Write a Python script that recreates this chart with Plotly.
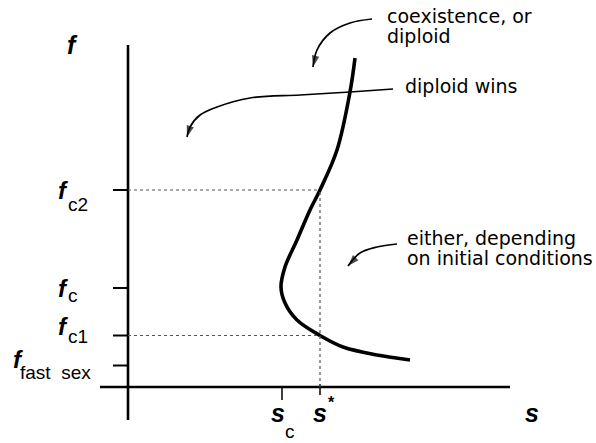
import plotly.graph_objects as go

# ---------------- data (abstract units: s to the right, f upward) ----------------
F_TICK_VALUES = [197, 99, 51.5, 21.5]
F_TICK_SUBS = ["c2", "c", "c1", "fast\u00a0\u00a0sex"]
S_C = 154
S_STAR = 192

CURVE_S = [227, 222, 209, 192, 182, 169, 157, 153, 157, 169, 192, 215, 249, 282]
CURVE_F = [329, 295, 237, 197, 177, 147, 120, 100, 84, 67, 51.5, 40, 32, 27]

ARROW1_S = [244, 222, 202, 189, 185]
ARROW1_F = [368, 364, 354, 337, 320]
ARROW2_S = [265, 222, 172, 122, 89, 72, 62, 59]
ARROW2_F = [298, 295, 292, 289, 280, 272, 260, 250]
ARROW3_S = [269, 249, 232, 220]
ARROW3_F = [143, 140, 134, 121]

S_AXIS_EXTENT = [-28, 382]
F_AXIS_EXTENT = [-33, 342]

# ---------------- figure ----------------
fig = go.Figure()

LABEL_FONT = "Liberation Sans"
TEXT_FONT = "DejaVu Sans"

# main curve
fig.add_trace(go.Scatter(x=CURVE_S, y=CURVE_F, mode="lines",
                         line=dict(color="black", width=3.6, shape="spline", smoothing=1.0),
                         hoverinfo="skip"))

# arrows
for xs, ys in [(ARROW1_S, ARROW1_F), (ARROW2_S, ARROW2_F), (ARROW3_S, ARROW3_F)]:
    n = len(xs)
    fig.add_trace(go.Scatter(
        x=xs, y=ys, mode="lines+markers",
        line=dict(color="black", width=1.7, shape="spline", smoothing=1.0),
        marker=dict(symbol="arrow", angleref="previous", color="black",
                    size=[0] * (n - 1) + [12], line=dict(width=0)),
        hoverinfo="skip"))

shapes = []
# axes
shapes.append(dict(type="line", xref="x", yref="y", x0=0, x1=0,
                   y0=F_AXIS_EXTENT[0], y1=F_AXIS_EXTENT[1], line=dict(color="black", width=2.6)))
shapes.append(dict(type="line", xref="x", yref="y", x0=S_AXIS_EXTENT[0], x1=S_AXIS_EXTENT[1],
                   y0=0, y1=0, line=dict(color="black", width=2.6)))
# f ticks
for fv in F_TICK_VALUES:
    shapes.append(dict(type="line", xref="x", yref="y", x0=-15, x1=0, y0=fv, y1=fv,
                       line=dict(color="black", width=2)))
# s ticks
shapes.append(dict(type="line", xref="x", yref="y", x0=S_C, x1=S_C, y0=0, y1=-13,
                   line=dict(color="black", width=1.5)))
shapes.append(dict(type="line", xref="x", yref="y", x0=S_STAR, x1=S_STAR, y0=3, y1=-8,
                   line=dict(color="black", width=1.5)))
# dotted guides
dot = dict(color="#555555", width=1.2, dash="dot")
shapes.append(dict(type="line", xref="x", yref="y", x0=0, x1=S_STAR,
                   y0=F_TICK_VALUES[0], y1=F_TICK_VALUES[0], line=dot))
shapes.append(dict(type="line", xref="x", yref="y", x0=0, x1=S_STAR,
                   y0=F_TICK_VALUES[2], y1=F_TICK_VALUES[2], line=dot))
shapes.append(dict(type="line", xref="x", yref="y", x0=S_STAR, x1=S_STAR,
                   y0=0, y1=F_TICK_VALUES[0], line=dot))

annotations = []

def ann(x, y, text, size, xanchor="center", family=LABEL_FONT, italic=False, bold=False):
    annotations.append(dict(
        x=x, y=y, xref="x", yref="y", text=text, showarrow=False,
        xanchor=xanchor, yanchor="middle",
        font=dict(family=family, size=size, color="black",
                  style="italic" if italic else "normal",
                  weight="bold" if bold else "normal")))

# axis names
ann(-56, 342, "f", 25, italic=True, bold=True)
ann(404, -26, "s", 25, italic=True, bold=True)

# f tick labels: (dy for f glyph, dy for subscript)
f_offsets = [(-0.5, -14), (0, -7.5), (9.5, -1), (6, -7)]
for fv, sub, (dyf, dys) in zip(F_TICK_VALUES, F_TICK_SUBS, f_offsets):
    if sub.startswith("fast"):
        ann(-103, fv + dyf, "f", 24, xanchor="right", italic=True, bold=True)
        ann(-110, fv + dys, sub, 19, xanchor="left")
    else:
        ann(-58, fv + dyf, "f", 24, xanchor="right", italic=True, bold=True)
        ann(-62, fv + dys, sub, 19, xanchor="left")

# s tick labels
ann(S_C - 4, -26, "s", 25, italic=True, bold=True)
ann(S_C + 8, -44, "c", 19)
ann(S_STAR, -26, "s", 25, italic=True, bold=True)
ann(S_STAR + 11, -15, "*", 16, bold=True)

# region annotations
TS = 19
ann(257, 371, "coexistence, or", TS, xanchor="left", family=TEXT_FONT)
ann(257, 351, "diploid", TS, xanchor="left", family=TEXT_FONT)
ann(275, 301, "diploid wins", TS, xanchor="left", family=TEXT_FONT)
ann(277, 149.5, "either, depending", TS, xanchor="left", family=TEXT_FONT)
ann(277, 129.5, "on initial conditions", TS, xanchor="left", family=TEXT_FONT)

fig.update_layout(
    width=596, height=443,
    margin=dict(l=0, r=0, t=0, b=0),
    paper_bgcolor="white", plot_bgcolor="white",
    showlegend=False,
    xaxis=dict(range=[-128, 468], visible=False, fixedrange=True),
    yaxis=dict(range=[-56, 387], visible=False, fixedrange=True),
    shapes=shapes, annotations=annotations,
)

fig.write_html("out.html", config={"displayModeBar": False},
               post_script="document.body.style.margin='0';document.body.style.overflow='hidden';")
